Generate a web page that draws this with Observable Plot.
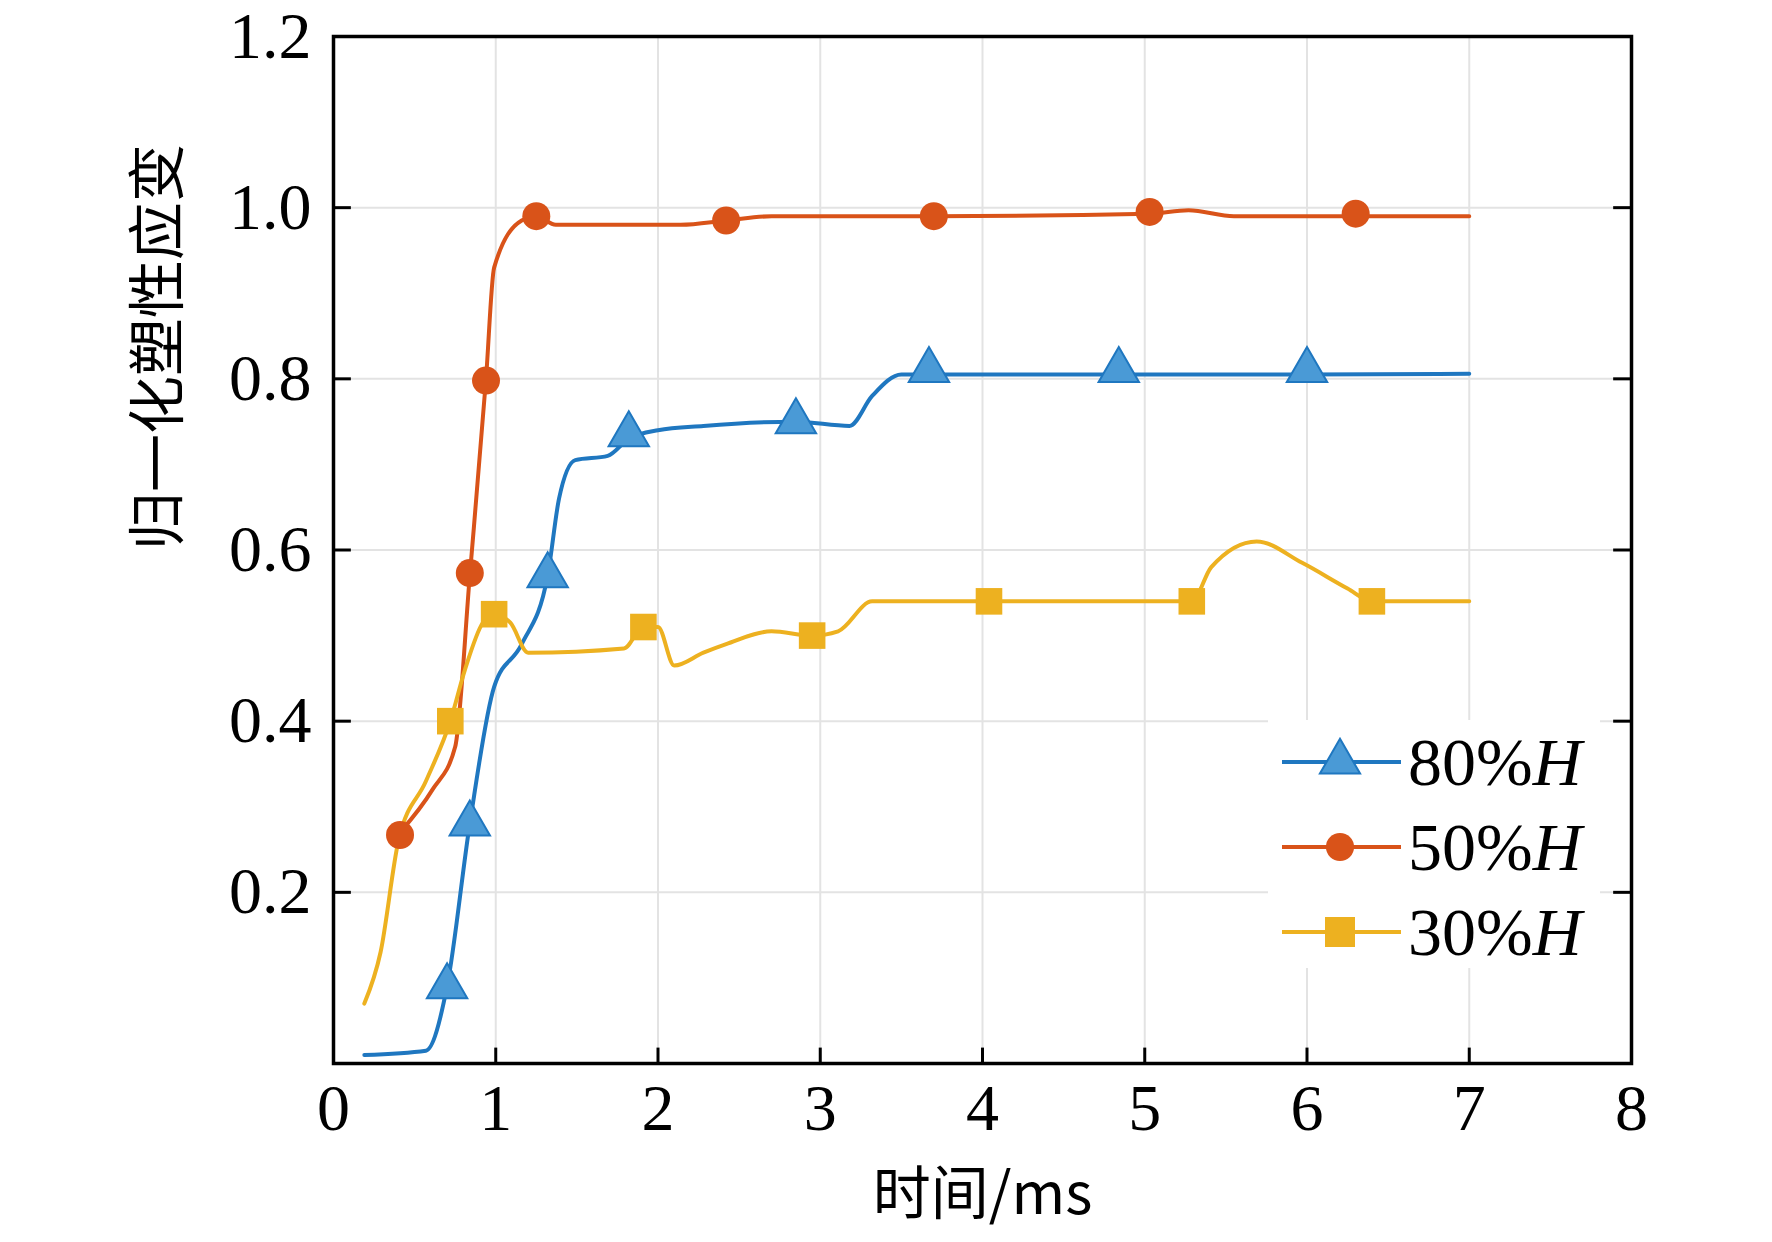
<!DOCTYPE html>
<html><head><meta charset="utf-8">
<script src="https://cdn.jsdelivr.net/npm/d3@7"></script>
<script src="https://cdn.jsdelivr.net/npm/@observablehq/plot@0.6"></script>
<style>
body{margin:0;background:#fff;}
#wrap{position:relative;width:1772px;height:1242px;font-family:"Liberation Serif",serif;}
#legend{position:absolute;left:1268px;top:720px;width:332px;height:248px;background:#fff;}
</style></head><body>
<div id="wrap"><div id="chart"></div><svg id="legend" width="332" height="248"></svg></div>
<script>
const xTicks = [0,1,2,3,4,5,6,7,8];
const yTicks = [0.2,0.4,0.6,0.8,1.0,1.2];
const seriesNames = ["80%H","50%H","30%H"];
const colors = ["#1f77c0","#d95319","#edb120"];
const fills = ["#4a9ad6","#d95319","#edb120"];

const blueX = [0.19,0.57,0.7,0.84,0.99,1.16,1.32,1.39,1.49,1.69,1.82,2.0,2.28,2.85,3.18,3.32,3.5,3.67,4.84,6.0,7.0];
const blueY = [0.01,0.015,0.09,0.28,0.44,0.49,0.57,0.66,0.705,0.71,0.73,0.74,0.745,0.75,0.745,0.78,0.805,0.805,0.805,0.805,0.806];
const redX = [0.41,0.61,0.75,0.84,0.94,0.99,1.16,1.25,1.37,2.14,2.42,2.7,3.7,5.03,5.27,5.55,6.3,7.0];
const redY = [0.27,0.32,0.37,0.57,0.80,0.93,0.985,0.99,0.98,0.98,0.985,0.99,0.99,0.993,0.997,0.99,0.99,0.99];
const yelX = [0.19,0.29,0.4,0.57,0.72,0.81,0.92,0.99,1.09,1.2,1.79,1.91,2.0,2.1,2.28,2.42,2.7,2.95,3.11,3.32,3.46,4.04,5.29,5.41,5.69,5.97,6.25,6.4,7.0];
const yelY = [0.07,0.13,0.26,0.33,0.40,0.46,0.515,0.525,0.515,0.48,0.485,0.51,0.51,0.465,0.48,0.49,0.505,0.50,0.505,0.54,0.54,0.54,0.54,0.58,0.61,0.585,0.555,0.54,0.54];

const blueMX = [0.7,0.84,1.32,1.82,2.85,3.67,4.84,6.0];
const blueMY = [0.09,0.28,0.57,0.735,0.75,0.81,0.81,0.81];
const redMX = [0.41,0.84,0.94,1.25,2.42,3.7,5.03,6.3];
const redMY = [0.267,0.573,0.798,0.99,0.985,0.99,0.995,0.993];
const yelMX = [0.72,0.99,1.91,2.95,4.04,5.29,6.4];
const yelMY = [0.40,0.525,0.51,0.50,0.54,0.54,0.54];

const toPts = (xs, ys) => xs.map((x,i)=>({x, y: ys[i]}));
const blue = toPts(blueX, blueY), red = toPts(redX, redY), yel = toPts(yelX, yelY);
const bm = toPts(blueMX, blueMY), rm = toPts(redMX, redMY), ym = toPts(yelMX, yelMY);

const tk = 0.018, tkx = 0.11;
const plot = Plot.plot({
  width: 1772, height: 1242,
  marginLeft: 333, marginRight: 141, marginTop: 36, marginBottom: 179,
  style: {fontFamily: "Liberation Serif, serif", fontSize: "66px", background: "transparent"},
  x: {domain: [0, 8]},
  y: {domain: [0, 1.2]},
  marks: [
    Plot.ruleX([1,2,3,4,5,6,7], {stroke: "#e3e3e3", strokeWidth: 2}),
    Plot.ruleY([0.2,0.4,0.6,0.8,1.0], {stroke: "#e3e3e3", strokeWidth: 2}),
    Plot.line(blue, {x: "x", y: "y", stroke: colors[0], strokeWidth: 4, curve: "monotone-x"}),
    Plot.line(red, {x: "x", y: "y", stroke: colors[1], strokeWidth: 4, curve: "monotone-x"}),
    Plot.line(yel, {x: "x", y: "y", stroke: colors[2], strokeWidth: 4, curve: "monotone-x"}),
    Plot.dot(bm, {x: "x", y: "y", symbol: "triangle", r: 15, fill: fills[0], stroke: colors[0], strokeWidth: 2}),
    Plot.dot(rm, {x: "x", y: "y", symbol: "circle", r: 14, fill: fills[1]}),
    Plot.dot(ym, {x: "x", y: "y", symbol: "square", r: 15, fill: fills[2]}),
    Plot.ruleX(xTicks.slice(1,-1), {y1: 0, y2: tk, stroke: "black", strokeWidth: 3}),
    Plot.ruleY(yTicks.slice(0,-1), {x1: 0, x2: tkx, stroke: "black", strokeWidth: 3}),
    Plot.ruleY(yTicks.slice(0,-1), {x1: 8 - tkx, x2: 8, stroke: "black", strokeWidth: 3}),
    Plot.frame({stroke: "black", strokeWidth: 3.5}),
    Plot.axisX(xTicks, {tickSize: 0, tickPadding: 20, fontSize: 66, tickFormat: d => String(d), label: null}),
    Plot.axisY(yTicks, {tickSize: 0, tickPadding: 22, fontSize: 66, tickFormat: d => d.toFixed(1), label: null}),
    Plot.text(["时间/ms"], {frameAnchor: "bottom", dy: 150, fontSize: 58, fontFamily: "Noto Sans CJK SC, Liberation Serif, serif"}),
    Plot.text(["归一化塑性应变"], {frameAnchor: "left", dx: -174, rotate: -90, fontSize: 58, fontFamily: "Noto Sans CJK SC, serif"})
  ]
});
document.getElementById("chart").appendChild(plot);

// legend
const lg = d3.select("#legend");
const rows = [42, 127, 212];
const syms = ["triangle","circle","square"];
rows.forEach((yy, i) => {
  lg.append("line").attr("x1", 14).attr("x2", 133).attr("y1", yy).attr("y2", yy).attr("stroke", colors[i]).attr("stroke-width", 4);
  const sym = d3.symbol().type(syms[i]==="triangle"?d3.symbolTriangle:syms[i]==="circle"?d3.symbolCircle:d3.symbolSquare).size(syms[i]==="circle"?620:syms[i]==="square"?900:700);
  lg.append("path").attr("d", sym()).attr("transform", `translate(72,${yy})`).attr("fill", fills[i]).attr("stroke", i===0?colors[0]:"none").attr("stroke-width", 2);
  const t = lg.append("text").attr("x", 140).attr("y", yy + 23).attr("font-size", 68).attr("font-family", "Liberation Serif, serif");
  t.append("tspan").text(seriesNames[i].slice(0, -1));
  t.append("tspan").attr("font-style", "italic").text("H");
});
</script>
</body></html>
